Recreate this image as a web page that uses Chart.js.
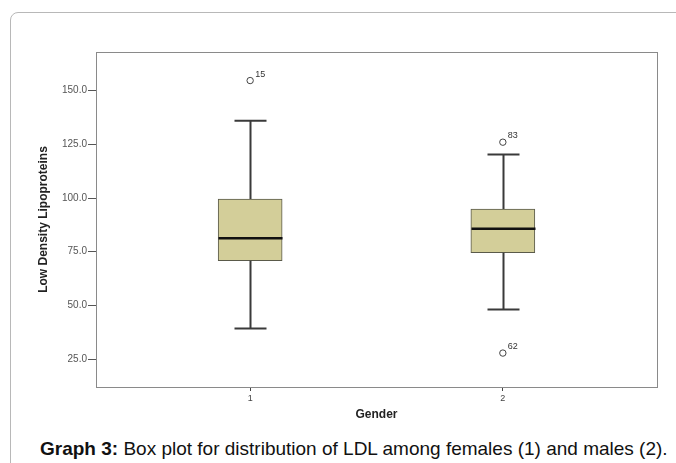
<!DOCTYPE html>
<html>
<head>
<meta charset="utf-8">
<script src="https://cdn.jsdelivr.net/npm/chart.js@4"></script>
<style>
body { margin: 0; background: #fff; font-family: "Liberation Sans", Arial, sans-serif; overflow: hidden; }
#card { position: absolute; left: 10px; top: 12px; width: 800px; height: 560px; border: 1px solid #b8b8b8; border-radius: 8px; }
#wrap { position: absolute; left: 0; top: 0; width: 676px; height: 430px; }
#caption { position: absolute; left: 40px; top: 437px; font-size: 19px; line-height: 24px; color: #111; white-space: nowrap; }
</style>
</head>
<body>
<div id="card"></div>
<div id="wrap"><canvas id="box-chart" width="676" height="430"></canvas></div>
<div id="caption"><b>Graph 3:</b> Box plot for distribution of LDL among females (1) and males (2).</div>
<script>
/* data */
const groups = ['1', '2'];
const whiskerMin = [39.3, 48.1];
const q1 = [70.8, 74.5];
const median = [81.3, 85.7];
const q3 = [99.5, 94.9];
const whiskerMax = [136.0, 120.3];
const outlierGroup = [1, 2, 2];
const outlierValue = [154.7, 126.0, 27.8];
const outlierCase = ['15', '83', '62'];
const yTicks = [25, 50, 75, 100, 125, 150];

//box outline, whiskers, caps, median and outlier labels
const boxExtras = {
    id: 'boxExtras',
    beforeDatasetsDraw(chart) {
        const ctx = chart.ctx;
        const a = chart.chartArea;
        ctx.save();
        ctx.strokeStyle = '#8a8a8a';
        ctx.lineWidth = 1;
        ctx.strokeRect(a.left + 0.5, a.top + 0.5, a.right - a.left, a.bottom - a.top);
        ctx.restore();
    },
    afterDatasetsDraw(chart) {
        const ctx = chart.ctx;
        const xs = chart.scales.x;
        const ys = chart.scales.y;
        const bars = chart.getDatasetMeta(0).data;
        ctx.save();
        groups.forEach((g, i) => {
            const x = Math.round(xs.getPixelForValue(i + 1)) + 0.5;
            const half = bars[i].width / 2;
            ctx.strokeStyle = '#3a3a3a';
            ctx.lineWidth = 2;
            ctx.beginPath();
            ctx.moveTo(x, ys.getPixelForValue(q3[i]));
            ctx.lineTo(x, ys.getPixelForValue(whiskerMax[i]));
            ctx.moveTo(x, ys.getPixelForValue(q1[i]));
            ctx.lineTo(x, ys.getPixelForValue(whiskerMin[i]));
            ctx.moveTo(x - 16, ys.getPixelForValue(whiskerMax[i]));
            ctx.lineTo(x + 16, ys.getPixelForValue(whiskerMax[i]));
            ctx.moveTo(x - 16, ys.getPixelForValue(whiskerMin[i]));
            ctx.lineTo(x + 16, ys.getPixelForValue(whiskerMin[i]));
            ctx.stroke();
            ctx.strokeStyle = '#111';
            ctx.lineWidth = 2.5;
            ctx.beginPath();
            ctx.moveTo(x - half, ys.getPixelForValue(median[i]));
            ctx.lineTo(x + half, ys.getPixelForValue(median[i]));
            ctx.stroke();
        });
        ctx.fillStyle = '#333';
        ctx.font = '9px "Liberation Sans", Arial, sans-serif';
        ctx.textBaseline = 'bottom';
        outlierCase.forEach((c, i) => {
            const x = xs.getPixelForValue(outlierGroup[i]);
            const y = ys.getPixelForValue(outlierValue[i]);
            ctx.fillText(c, x + 5, y - 2);
        });
        ctx.restore();
    }
};

const data = {
    datasets: [
        {
            type: 'bar',
            data: groups.map((g, i) => ({ x: i + 1, y: [q1[i], q3[i]] })),
            backgroundColor: '#d3ce99',
            borderColor: '#5a5a4a',
            borderWidth: 1,
            borderSkipped: false,
            barThickness: 64
        },
        {
            type: 'scatter',
            data: outlierValue.map((v, i) => ({ x: outlierGroup[i], y: v })),
            pointStyle: 'circle',
            pointRadius: 3.2,
            borderColor: '#444',
            backgroundColor: '#fff',
            borderWidth: 1
        }
    ]
};

const config = {
    data: data,
    options: {
        responsive: false,
        animation: false,
        layout: { padding: { left: 30, top: 52, right: 19, bottom: 0 } },
        plugins: { legend: { display: false }, tooltip: { enabled: false } },
        scales: {
            x: {
                type: 'linear',
                min: 0.39,
                max: 2.61,
                offset: false,
                afterBuildTicks: scale => { scale.ticks = groups.map((g, i) => ({ value: i + 1 })); },
                afterFit: scale => { scale.height = 43; },
                ticks: {
                    callback: (v) => groups[v - 1],
                    font: { size: 9 },
                    color: '#444',
                    padding: 2
                },
                grid: { offset: false, drawOnChartArea: false, tickLength: 4, color: '#444' },
                border: { display: false },
                title: {
                    display: true,
                    text: 'Gender',
                    font: { size: 12, weight: 'bold' },
                    color: '#222',
                    padding: { top: 0, bottom: 8 }
                }
            },
            y: {
                min: 12,
                max: 168,
                afterBuildTicks: scale => { scale.ticks = yTicks.map(v => ({ value: v })); },
                afterFit: scale => { scale.width = 66; },
                ticks: {
                    callback: v => v.toFixed(1),
                    font: { size: 10 },
                    color: '#555',
                    padding: 1
                },
                grid: { drawOnChartArea: false, tickLength: 8, color: '#555' },
                border: { display: false },
                title: {
                    display: true,
                    text: 'Low Density Lipoproteins',
                    font: { size: 12, weight: 'bold' },
                    color: '#222',
                    padding: { top: 6, bottom: 0 }
                }
            }
        }
    },
    plugins: [boxExtras]
};

const ctx = document.getElementById('box-chart').getContext('2d');
const boxChart = new Chart(ctx, config);
</script>
</body>
</html>
